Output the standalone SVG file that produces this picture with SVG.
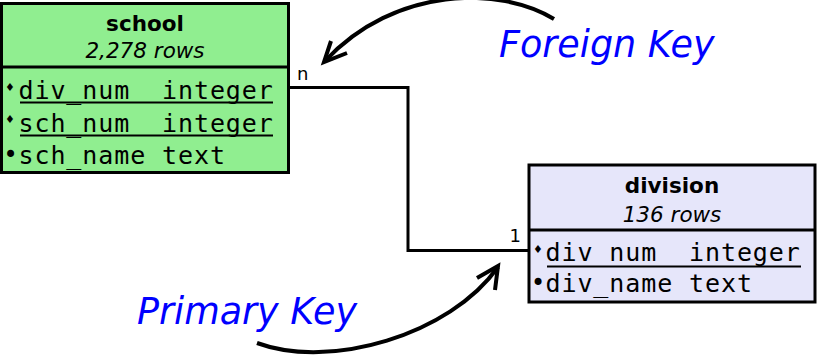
<svg xmlns="http://www.w3.org/2000/svg" width="817" height="355" viewBox="0 0 817 355">
  <style>
    .box { stroke: #000; stroke-width: 3; }
    .sep { stroke: #000; stroke-width: 3; }
    .title { font-family: "DejaVu Sans", sans-serif; font-weight: bold; font-size: 21.5px; text-anchor: middle; fill: #000; }
    .count { font-family: "DejaVu Sans", sans-serif; font-style: italic; font-size: 21.5px; text-anchor: middle; fill: #000; }
    .row { font-family: "DejaVu Sans Mono", "Liberation Mono", monospace; font-size: 25px; letter-spacing: 0.9px; white-space: pre; fill: #000; }
    .dia { font-family: "DejaVu Sans", sans-serif; font-size: 11px; text-anchor: middle; fill: #000; }
    .dot { font-family: "DejaVu Sans", sans-serif; font-size: 24px; text-anchor: middle; fill: #000; }
    .key { stroke: #000; stroke-width: 2; }
    .card { font-family: "DejaVu Sans", sans-serif; font-size: 18px; fill: #000; }
    .link { fill: none; stroke: #000; stroke-width: 3; }
    .note { font-family: "DejaVu Sans", sans-serif; font-style: italic; font-size: 36.5px; fill: #0000ff; }
    .pointer { fill: none; stroke: #000; stroke-width: 4; stroke-linecap: butt; stroke-linejoin: miter; }
  </style>

  <!-- relationship line between the two tables -->
  <g id="connectors">
    <polyline class="link" points="289,87.5 408,87.5 408,250.5 529,250.5"/>
    <text class="card" x="297" y="80">n</text>
    <text class="card" x="521" y="241.5" text-anchor="end">1</text>
  </g>

  <g id="school">
    <rect class="box" x="1.5" y="3.5" width="287" height="169" fill="#90ee90"/>
    <line class="sep" x1="1.5" y1="67" x2="288.5" y2="67"/>
    <text class="title" x="145" y="31">school</text>
    <text class="count" x="145" y="58">2,278 rows</text>
    <text class="dia" x="10" y="91">♦</text>
    <text class="row" x="18.5" y="99">div_num  integer</text>
    <line class="key" x1="20" y1="102.5" x2="273" y2="102.5"/>
    <text class="dia" x="10" y="123">♦</text>
    <text class="row" x="18.5" y="131.5">sch_num  integer</text>
    <line class="key" x1="20" y1="135.5" x2="273" y2="135.5"/>
    <text class="dot" x="10.5" y="163">•</text>
    <text class="row" x="18.5" y="164">sch_name text</text>
  </g>

  <g id="division">
    <rect class="box" x="529" y="165" width="286" height="137" fill="#e6e6fa"/>
    <line class="sep" x1="529" y1="230" x2="815" y2="230"/>
    <text class="title" x="672" y="193">division</text>
    <text class="count" x="672" y="222">136 rows</text>
    <text class="dia" x="538" y="253">♦</text>
    <text class="row" x="545.5" y="261">div_num  integer</text>
    <line class="key" x1="547" y1="266.5" x2="801" y2="266.5"/>
    <text class="dot" x="538" y="291">•</text>
    <text class="row" x="545.5" y="292">div_name text</text>
  </g>

  <g id="foreign-key-note">
    <text class="note" x="499" y="57">Foreign Key</text>
    <path class="pointer" d="M554,19 C500,-14 395,-14 325,61"/>
    <polyline class="pointer" points="331,41 324,62 347,53"/>
  </g>

  <g id="primary-key-note">
    <text class="note" x="137" y="324">Primary Key</text>
    <path class="pointer" d="M257,343 C330,370 450,335 498,267"/>
    <polyline class="pointer" points="477,278 498,266 495,290"/>
  </g>
</svg>
